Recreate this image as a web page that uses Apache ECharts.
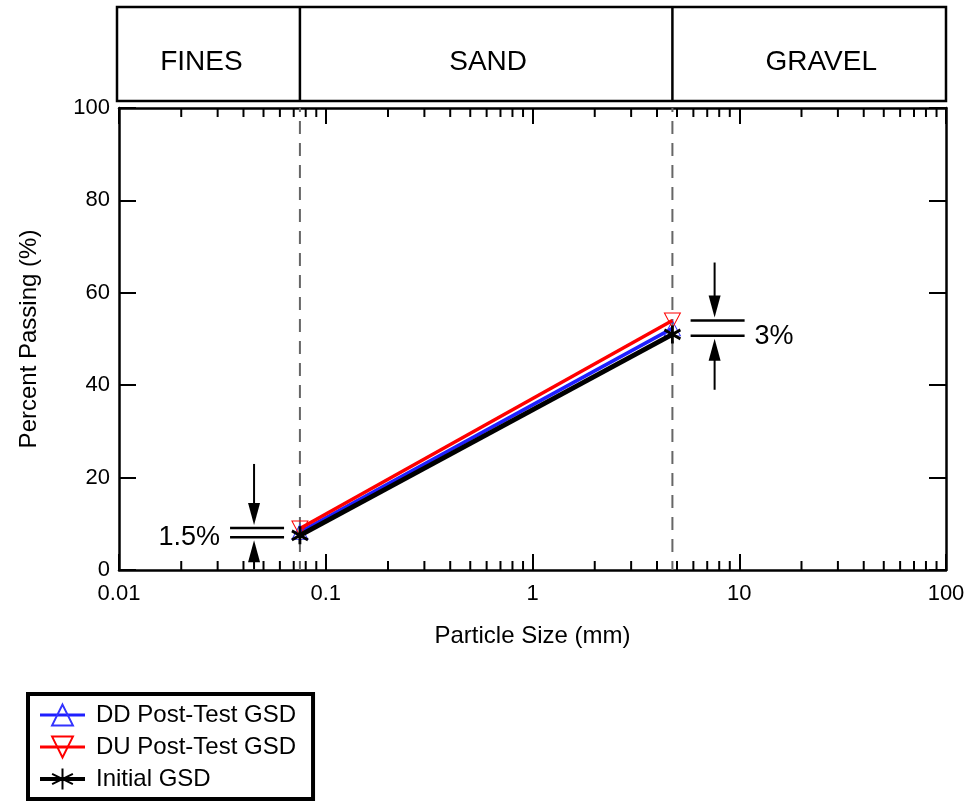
<!DOCTYPE html>
<html><head><meta charset="utf-8">
<script src="https://cdn.jsdelivr.net/npm/echarts@6/dist/echarts.min.js"></script>
<style>html,body{margin:0;padding:0;background:#fff}#c{width:968px;height:805px}</style>
</head><body><div id="c"></div>
<script>
// ---- data ----
const sieveSizes = [0.075, 4.75];
const ddPost = [8.2, 52.3];
const duPost = [9.0, 54.0];
const initialGsd = [7.5, 51.0];
const xTickLabels = ['0.01', '0.1', '1', '10', '100'];
const minorTickValues = [0.02,0.03,0.04,0.05,0.06,0.07,0.08,0.09,
  0.2,0.3,0.4,0.5,0.6,0.7,0.8,0.9, 2,3,4,5,6,7,8,9, 20,30,40,50,60,70,80,90];
const bandNames = ['FINES', 'SAND', 'GRAVEL'];
const bandBoundaries = [0.075, 4.75];
const seriesNames = ['DD Post-Test GSD', 'DU Post-Test GSD', 'Initial GSD'];
const annotationLabels = ['1.5%', '3%'];
const annotationX = [0.045, 7.6];
const annotationHi = [9.1, 54.0];
const annotationLo = [7.1, 50.7];

const FONT = '"Liberation Sans", Arial, sans-serif';
const chart = echarts.init(document.getElementById('c'), null, {renderer: 'canvas'});

function pairs(xs, ys) { return xs.map((x, i) => [x, ys[i]]); }
const upTri = 'path://M5,0 L10,10 L0,10 Z';
const downTri = 'path://M0,0 L10,0 L5,10 Z';
const star = 'path://M5,0 L5,10 M0.7,2.5 L9.3,7.5 M0.7,7.5 L9.3,2.5';
const legendLineWidths = [3, 3, 4];

const axisLineStyle = {color: '#000', width: 2.5};
const option = {
  backgroundColor: '#fff',
  animation: false,
  grid: {left: 119, right: 22, top: 108, bottom: 235, containLabel: false},
  xAxis: [{
    type: 'log', logBase: 10, min: 0.01, max: 100, position: 'bottom',
    axisLine: {show: true, onZero: false, lineStyle: axisLineStyle},
    axisTick: {show: true, inside: true, length: 16, lineStyle: {color: '#000', width: 2}},
    axisLabel: {show: true, margin: 13, color: '#000', fontSize: 22, fontFamily: FONT,
      formatter: v => xTickLabels[Math.round(Math.log10(v)) + 2]},
    splitLine: {show: false},
    name: 'Particle Size (mm)', nameLocation: 'middle', nameGap: 54,
    nameTextStyle: {color: '#000', fontSize: 24, fontFamily: FONT}
  }, {
    type: 'log', logBase: 10, min: 0.01, max: 100, position: 'top',
    axisLine: {show: true, onZero: false, lineStyle: axisLineStyle},
    axisTick: {show: true, inside: true, length: 16, lineStyle: {color: '#000', width: 2}},
    axisLabel: {show: false}, splitLine: {show: false}
  }],
  yAxis: [{
    type: 'value', min: 0, max: 100, interval: 20, position: 'left',
    axisLine: {show: true, onZero: false, lineStyle: axisLineStyle},
    axisTick: {show: true, inside: true, length: 17, lineStyle: {color: '#000', width: 2}},
    axisLabel: {show: true, margin: 9, color: '#000', fontSize: 22, fontFamily: FONT},
    splitLine: {show: false},
    name: 'Percent Passing (%)', nameLocation: 'middle', nameGap: 78,
    nameTextStyle: {color: '#000', fontSize: 24, fontFamily: FONT}
  }, {
    type: 'value', min: 0, max: 100, interval: 20, position: 'right',
    axisLine: {show: true, onZero: false, lineStyle: axisLineStyle},
    axisTick: {show: true, inside: true, length: 17, lineStyle: {color: '#000', width: 2}},
    axisLabel: {show: false}, splitLine: {show: false}
  }],
  legend: {
    data: seriesNames.map((n, i) => ({name: n, lineStyle: {width: legendLineWidths[i]}})),
    orient: 'vertical', left: 28, top: 694,
    backgroundColor: '#fff', borderColor: '#000', borderWidth: 4,
    padding: [9, 17, 8, 10], itemWidth: 45, itemHeight: 26, itemGap: 8,
    textStyle: {color: '#000', fontSize: 24, fontFamily: FONT, padding: [0, 0, 0, 6]}
  },
  series: [{
    type: 'custom', name: 'minorTicks', silent: true, z: 1,
    data: minorTickValues.map(v => [v, 0]),
    renderItem: function (params, api) {
      const v = api.value(0);
      const b = api.coord([v, 0]);
      const t = api.coord([v, 100]);
      const st = {stroke: '#000', lineWidth: 2};
      return {type: 'group', children: [
        {type: 'line', shape: {x1: b[0], y1: b[1], x2: b[0], y2: b[1] - 9}, style: st},
        {type: 'line', shape: {x1: t[0], y1: t[1], x2: t[0], y2: t[1] + 9}, style: st}
      ]};
    }
  }, {
    type: 'line', name: seriesNames[0], data: pairs(sieveSizes, ddPost), z: 3,
    symbol: upTri, symbolSize: [16, 15],
    lineStyle: {color: '#1f1fff', width: 3.5},
    itemStyle: {color: 'rgba(255,255,255,0)', borderColor: '#3333ff', borderWidth: 1}
  }, {
    type: 'line', name: seriesNames[1], data: pairs(sieveSizes, duPost), z: 4,
    symbol: downTri, symbolSize: [16, 15],
    lineStyle: {color: '#ff0000', width: 3.5},
    itemStyle: {color: 'rgba(255,255,255,0)', borderColor: '#ff0000', borderWidth: 1}
  }, {
    type: 'line', name: seriesNames[2], data: pairs(sieveSizes, initialGsd), z: 5,
    symbol: star, symbolSize: [16, 18],
    lineStyle: {color: '#000', width: 5},
    itemStyle: {color: 'rgba(0,0,0,0)', borderColor: '#000', borderWidth: 3}
  }]
};
chart.setOption(option);

function px(x, y) { return chart.convertToPixel({gridIndex: 0}, [x, y]); }
const g = [];
const L = px(0.01, 0)[0], R = px(100, 0)[0];
const yTop = px(0.01, 100)[1], yBot = px(0.01, 0)[1];
const bandTop = 7, bandBot = 101;
g.push({type: 'rect', shape: {x: L - 2, y: bandTop, width: R - L + 2, height: bandBot - bandTop},
  style: {fill: 'none', stroke: '#000', lineWidth: 2.5}});
const edgesPx = [L - 2].concat(bandBoundaries.map(v => px(v, 0)[0])).concat([R]);
bandBoundaries.forEach(v => {
  const x = px(v, 0)[0];
  g.push({type: 'line', shape: {x1: x, y1: bandTop, x2: x, y2: bandBot}, style: {stroke: '#000', lineWidth: 2.5}});
  g.push({type: 'line', z: 1, shape: {x1: x, y1: yBot, x2: x, y2: yTop},
    style: {stroke: '#666', lineWidth: 2, lineDash: [13, 9], lineDashOffset: 4}});
});
const bandShift = [-7, 2, 12];
bandNames.forEach((n, i) => {
  const cx = (edgesPx[i] + edgesPx[i + 1]) / 2 + bandShift[i];
  g.push({type: 'text', x: cx, y: (bandTop + bandBot) / 2 + 8,
    style: {text: n, fill: '#000', font: '28px ' + FONT, align: 'center', verticalAlign: 'middle'}});
});

const downLen = [64, 58], upLen = [32, 54];
const textDy = [5, 8];
annotationLabels.forEach((lab, i) => {
  const xp = px(annotationX[i], 0)[0];
  const yHi = px(annotationX[i], annotationHi[i])[1];
  const yLo = px(annotationX[i], annotationLo[i])[1];
  const st = {stroke: '#000', lineWidth: 2.5};
  g.push({type: 'line', shape: {x1: xp - 24, y1: yHi, x2: xp + 30, y2: yHi}, style: st});
  g.push({type: 'line', shape: {x1: xp - 24, y1: yLo, x2: xp + 30, y2: yLo}, style: st});
  g.push({type: 'line', shape: {x1: xp, y1: yHi - downLen[i], x2: xp, y2: yHi - 20}, style: {stroke: '#000', lineWidth: 2}});
  g.push({type: 'polygon', shape: {points: [[xp - 6, yHi - 25], [xp + 6, yHi - 25], [xp, yHi - 3]]}, style: {fill: '#000'}});
  g.push({type: 'line', shape: {x1: xp, y1: yLo + upLen[i], x2: xp, y2: yLo + 20}, style: {stroke: '#000', lineWidth: 2}});
  g.push({type: 'polygon', shape: {points: [[xp - 6, yLo + 25], [xp + 6, yLo + 25], [xp, yLo + 3]]}, style: {fill: '#000'}});
  const left = i === 0;
  g.push({type: 'text', x: left ? xp - 34 : xp + 40, y: (yHi + yLo) / 2 + textDy[i],
    style: {text: lab, fill: '#000', font: '27px ' + FONT, align: left ? 'right' : 'left', verticalAlign: 'middle'}});
});
chart.setOption({graphic: {elements: g}});
</script></body></html>
